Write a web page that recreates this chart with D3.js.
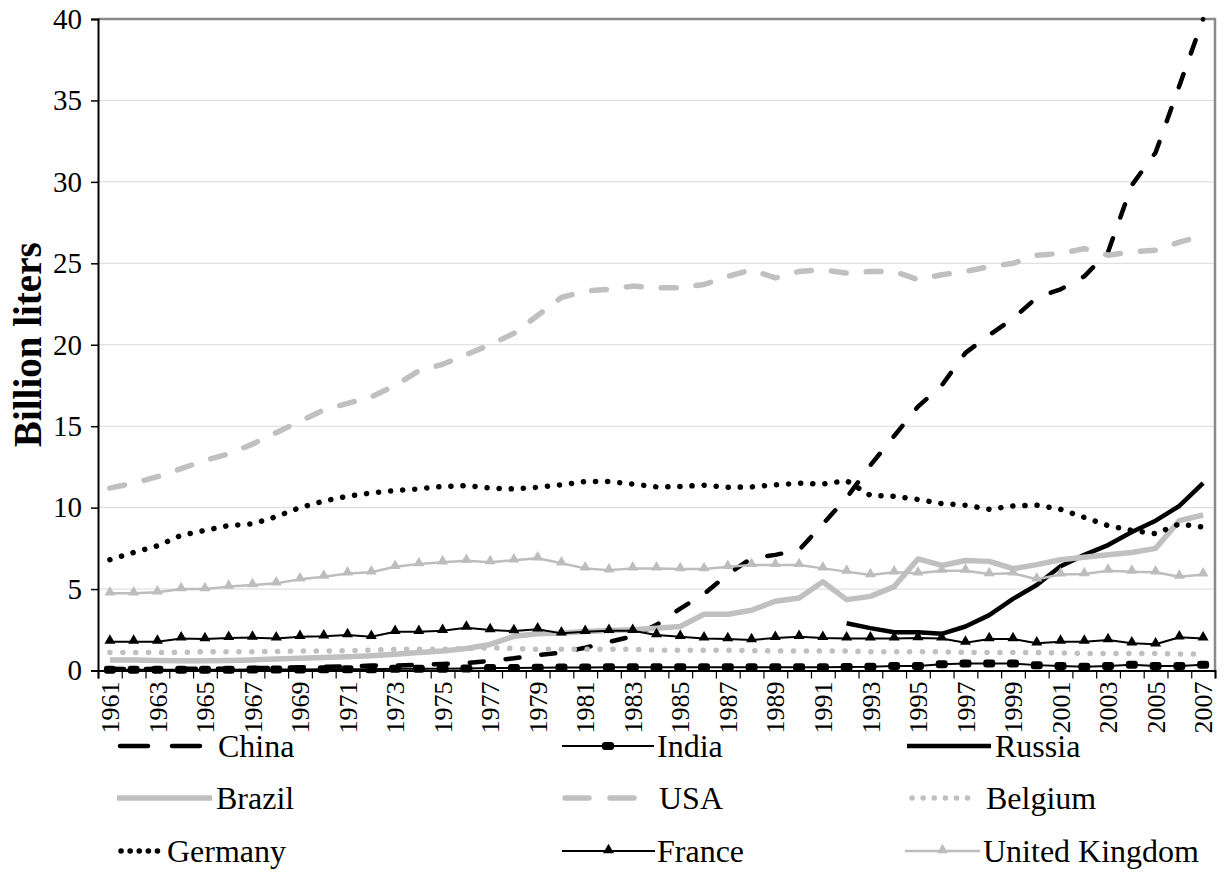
<!DOCTYPE html>
<html>
<head>
<meta charset="utf-8">
<script src="https://cdn.jsdelivr.net/npm/d3@7"></script>
<style>
  body { margin: 0; background: #fff; }
  svg { display: block; font-family: "Liberation Serif", "DejaVu Serif", serif; }
</style>
</head>
<body>
<div id="chart"></div>
<script>
var years = [1961, 1962, 1963, 1964, 1965, 1966, 1967, 1968, 1969, 1970,
  1971, 1972, 1973, 1974, 1975, 1976, 1977, 1978, 1979, 1980,
  1981, 1982, 1983, 1984, 1985, 1986, 1987, 1988, 1989, 1990,
  1991, 1992, 1993, 1994, 1995, 1996, 1997, 1998, 1999, 2000,
  2001, 2002, 2003, 2004, 2005, 2006, 2007]

var china = [0.1, 0.08, 0.1, 0.1, 0.1, 0.12, 0.15, 0.15, 0.2, 0.22,
  0.25, 0.3, 0.3, 0.35, 0.4, 0.45, 0.6, 0.75, 0.95, 1.1,
  1.4, 1.75, 2.1, 2.8, 3.8, 4.7, 5.9, 6.9, 7.1, 7.4,
  9.0, 10.6, 12.6, 14.4, 16.2, 17.5, 19.5, 20.6, 21.6, 22.9,
  23.4, 24.2, 25.7, 29.8, 31.8, 35.9, 40.0]
var india = [0.05, 0.05, 0.05, 0.05, 0.05, 0.05, 0.06, 0.06, 0.06, 0.07,
  0.08, 0.08, 0.1, 0.1, 0.1, 0.12, 0.15, 0.15, 0.17, 0.18,
  0.18, 0.2, 0.2, 0.2, 0.2, 0.2, 0.2, 0.2, 0.2, 0.2,
  0.2, 0.22, 0.23, 0.28, 0.28, 0.38, 0.43, 0.43, 0.43, 0.33,
  0.28, 0.23, 0.28, 0.36, 0.28, 0.28, 0.36]
var russia = [null, null, null, null, null, null, null, null, null, null,
  null, null, null, null, null, null, null, null, null, null,
  null, null, null, null, null, null, null, null, null, null,
  null, 2.9, 2.6, 2.35, 2.35, 2.25, 2.7, 3.4, 4.4, 5.25,
  6.4, 7.1, 7.7, 8.5, 9.2, 10.1, 11.5]
var brazil = [0.65, 0.65, 0.62, 0.6, 0.6, 0.62, 0.65, 0.7, 0.75, 0.8,
  0.85, 0.9, 1.0, 1.1, 1.2, 1.35, 1.6, 2.1, 2.25, 2.3,
  2.4, 2.45, 2.5, 2.6, 2.7, 3.45, 3.45, 3.7, 4.25, 4.45,
  5.45, 4.35, 4.55, 5.15, 6.85, 6.45, 6.75, 6.7, 6.25, 6.5,
  6.8, 6.95, 7.1, 7.25, 7.5, 9.2, 9.55]
var usa = [11.2, 11.5, 11.9, 12.4, 12.9, 13.3, 13.9, 14.6, 15.3, 16.0,
  16.4, 16.8, 17.5, 18.4, 18.8, 19.4, 20.0, 20.7, 21.8, 22.9,
  23.3, 23.4, 23.6, 23.5, 23.5, 23.7, 24.2, 24.6, 24.1, 24.5,
  24.6, 24.4, 24.5, 24.5, 24.0, 24.3, 24.5, 24.8, 25.0, 25.5,
  25.6, 25.9, 25.5, 25.7, 25.8, 26.3, 26.7]
var belgium = [1.1, 1.1, 1.1, 1.12, 1.15, 1.15, 1.15, 1.17, 1.2, 1.2,
  1.22, 1.25, 1.3, 1.3, 1.3, 1.35, 1.4, 1.35, 1.3, 1.3,
  1.3, 1.3, 1.3, 1.25, 1.25, 1.25, 1.25, 1.22, 1.2, 1.2,
  1.2, 1.2, 1.15, 1.15, 1.15, 1.15, 1.12, 1.1, 1.1, 1.1,
  1.08, 1.05, 1.05, 1.05, 1.05, 1.02, 1.0]
var germany = [6.8, 7.25, 7.65, 8.3, 8.6, 8.9, 9.0, 9.45, 10.0, 10.4,
  10.7, 10.9, 11.05, 11.15, 11.3, 11.35, 11.2, 11.15, 11.25, 11.4,
  11.6, 11.6, 11.45, 11.27, 11.3, 11.38, 11.25, 11.27, 11.4, 11.5,
  11.45, 11.65, 10.75, 10.7, 10.5, 10.25, 10.15, 9.9, 10.1, 10.15,
  9.9, 9.4, 8.9, 8.6, 8.4, 9.0, 8.8]
var france = [1.77, 1.77, 1.77, 1.97, 1.93, 2.0, 2.02, 1.97, 2.07, 2.1,
  2.18, 2.07, 2.38, 2.38, 2.44, 2.63, 2.48, 2.42, 2.53, 2.28,
  2.38, 2.44, 2.44, 2.18, 2.07, 1.97, 1.93, 1.87, 2.0, 2.07,
  2.0, 1.97, 1.97, 1.97, 1.99, 1.97, 1.71, 1.93, 1.93, 1.67,
  1.77, 1.77, 1.87, 1.67, 1.61, 2.04, 1.97]
var uk = [4.74, 4.74, 4.8, 5.0, 5.0, 5.15, 5.25, 5.35, 5.6, 5.76,
  5.96, 6.03, 6.37, 6.54, 6.64, 6.74, 6.65, 6.77, 6.89, 6.58,
  6.27, 6.15, 6.27, 6.27, 6.23, 6.23, 6.37, 6.48, 6.48, 6.48,
  6.27, 6.07, 5.86, 6.03, 5.97, 6.13, 6.13, 5.92, 5.97, 5.6,
  5.9, 5.92, 6.13, 6.07, 6.03, 5.76, 5.9]

var yTicks = [0, 5, 10, 15, 20, 25, 30, 35, 40]
var yTitle = 'Billion liters'

var black = '#000', grey = '#c0c0c0'
var serif = '"Liberation Serif", "DejaVu Serif", serif'

// series in drawing / legend order; leg = [sample start, sample end, text x]
var series = [
  {name: 'China', values: china, color: black, width: 4.5, dash: '14,22', legDash: '28,24', cap: 'round', leg: [117, 206, 218]},
  {name: 'India', values: india, color: black, width: 2, marker: 'rect', leg: [562, 654, 657]},
  {name: 'Russia', values: russia, color: black, width: 4.5, leg: [907, 991, 995]},
  {name: 'Brazil', values: brazil, color: grey, width: 5.5, leg: [117, 212, 216]},
  {name: 'USA', values: usa, color: grey, width: 5.5, dash: '15,20', legDash: '24,21', cap: 'round', leg: [562, 652, 659]},
  {name: 'Belgium', values: belgium, color: grey, width: 5.5, dash: '0.1,12.8', legDash: '0.1,11', cap: 'round', leg: [909, 980, 986]},
  {name: 'Germany', values: germany, color: black, width: 5.5, dash: '0.1,12', legDash: '0.1,9', cap: 'round', leg: [118, 164, 167]},
  {name: 'France', values: france, color: black, width: 2, marker: 'tri', leg: [562, 655, 657]},
  {name: 'United Kingdom', values: uk, color: '#bdbdbd', width: 2.5, marker: 'tri', leg: [905, 980, 983]}
]

var width = 1228, height = 888
var plot = {left: 98, right: 1215, top: 19, bottom: 670.5}

var svg = d3.select('#chart').append('svg')
  .attr('width', width)
  .attr('height', height)

var x = d3.scaleBand()
  .domain(years)
  .range([plot.left, plot.right])
  .padding(0)
var bw = x.bandwidth()
var cx = function(i) { return x(years[i]) + bw / 2 }

var xEdge = d3.scaleLinear()
  .domain([0, years.length])
  .range([plot.left, plot.right])

var y = d3.scaleLinear()
  .domain([0, 40])
  .range([plot.bottom, plot.top])

// gridlines
svg.append('g')
  .selectAll('line')
  .data(yTicks.filter(function(d) { return d > 0 && d < 40 }))
  .enter().append('line')
  .attr('x1', plot.left).attr('x2', plot.right)
  .attr('y1', function(d) { return y(d) }).attr('y2', function(d) { return y(d) })
  .style('stroke', '#d9d9d9')
  .style('stroke-width', 1)

// plot border (top + right)
svg.append('path')
  .attr('d', 'M' + plot.left + ',' + plot.top + 'H' + plot.right + 'V' + plot.bottom)
  .style('fill', 'none')
  .style('stroke', '#8a8a8a')
  .style('stroke-width', 2.5)

// y axis
var yAxis = svg.append('g')
  .attr('transform', 'translate(' + plot.left + ',0)')
  .call(d3.axisLeft(y).tickValues(yTicks).tickSize(7).tickPadding(9))
yAxis.attr('font-family', serif).attr('font-size', 29)
yAxis.select('.domain').style('stroke', black).style('stroke-width', 2)
yAxis.selectAll('.tick line').style('stroke', black).style('stroke-width', 1.5)
yAxis.selectAll('.tick text').style('fill', black)

// x axis: tick marks between categories
var xTickAxis = svg.append('g')
  .attr('transform', 'translate(0,' + plot.bottom + ')')
  .call(d3.axisBottom(xEdge).tickValues(d3.range(years.length + 1)).tickSize(8).tickFormat(''))
xTickAxis.select('.domain').style('stroke', black).style('stroke-width', 2)
xTickAxis.selectAll('.tick line').style('stroke', black).style('stroke-width', 1.2)

// x axis labels, every other year
var xLabelAxis = svg.append('g')
  .attr('transform', 'translate(0,' + plot.bottom + ')')
  .call(d3.axisBottom(x).tickValues(years.filter(function(d, i) { return i % 2 === 0 })).tickSize(0))
xLabelAxis.attr('font-family', serif).attr('font-size', 26)
xLabelAxis.select('.domain').remove()
xLabelAxis.selectAll('.tick text')
  .attr('transform', 'rotate(-90)')
  .attr('text-anchor', 'end')
  .attr('x', -11)
  .attr('y', 0)
  .attr('dy', '0.35em')
  .style('fill', black)

// y title
svg.append('text')
  .attr('transform', 'translate(41,' + ((plot.top + plot.bottom) / 2) + ') rotate(-90)')
  .attr('text-anchor', 'middle')
  .style('font-family', serif)
  .style('font-size', '39px')
  .style('font-weight', 'bold')
  .text(yTitle)

var triangle = d3.symbol().type(d3.symbolTriangle).size(52)

function drawMarkers(g, s, pts) {
  if (s.marker === 'tri') {
    g.selectAll('.mk').data(pts).enter().append('path')
      .attr('class', 'mk')
      .attr('d', triangle)
      .attr('transform', function(p) { return 'translate(' + p[0] + ',' + (p[1] - 1) + ')' })
      .style('fill', s.color)
  } else if (s.marker === 'rect') {
    g.selectAll('.mk').data(pts).enter().append('rect')
      .attr('class', 'mk')
      .attr('x', function(p) { return p[0] - 6 })
      .attr('y', function(p) { return p[1] - 4 })
      .attr('width', 12).attr('height', 8)
      .attr('rx', 3)
      .style('fill', s.color)
  }
}

var line = d3.line()
  .defined(function(d) { return d.v != null })
  .x(function(d) { return cx(d.i) })
  .y(function(d) { return y(d.v) })

series.forEach(function(s) {
  var pts = s.values.map(function(v, i) { return {i: i, v: v} })
  var g = svg.append('g').attr('class', 'series')
  g.append('path')
    .attr('d', line(pts))
    .style('fill', 'none')
    .style('stroke', s.color)
    .style('stroke-width', s.width)
    .style('stroke-dasharray', s.dash || null)
    .style('stroke-linecap', s.cap || 'butt')
    .style('stroke-linejoin', 'round')
  if (s.marker) {
    drawMarkers(g, s, pts.filter(function(d) { return d.v != null })
      .map(function(d) { return [cx(d.i), y(d.v)] }))
  }
})

// legend, 3 columns x 3 rows
var legRows = [757, 809, 862]

series.forEach(function(s, k) {
  var ly = legRows[Math.floor(k / 3)]
  var my = ly - 11
  var x0 = s.leg[0] + (s.cap ? 3 : 0), x1 = s.leg[1] - (s.cap ? 3 : 0)
  var g = svg.append('g').attr('class', 'legendItem')
  g.append('line')
    .attr('x1', x0).attr('x2', x1)
    .attr('y1', my).attr('y2', my)
    .style('stroke', s.color)
    .style('stroke-width', s.width)
    .style('stroke-dasharray', s.legDash || s.dash || null)
    .style('stroke-linecap', s.cap || 'butt')
  if (s.marker) drawMarkers(g, s, [[(s.leg[0] + s.leg[1]) / 2, my]])
  g.append('text')
    .attr('x', s.leg[2])
    .attr('y', ly)
    .style('font-family', serif)
    .style('font-size', '32px')
    .text(s.name)
})
</script>
</body>
</html>
